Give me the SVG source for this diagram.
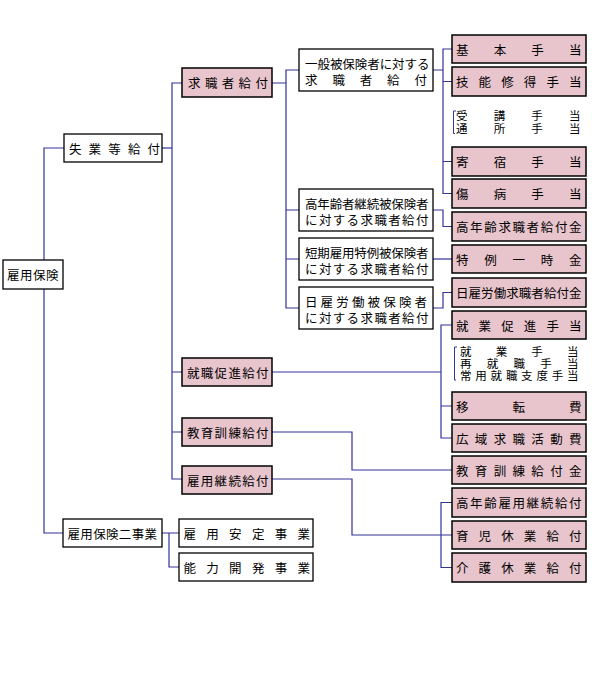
<svg xmlns="http://www.w3.org/2000/svg" width="592" height="700" viewBox="0 0 592 700">
<style>
.bw{fill:#fff;stroke:#000;stroke-width:1.3}
.bp{fill:#e8c4cc;stroke:#000;stroke-width:1.5}
text{font-family:"Noto Sans CJK JP","Noto Sans CJK SC",sans-serif;font-size:12.5px;fill:#000;dominant-baseline:central}
.s{font-size:11.5px}
.c{fill:none;stroke:#333399;stroke-width:1.2}
.k{fill:none;stroke:#333399;stroke-width:1}
</style>
<rect width="592" height="700" fill="#fff"/>
<g id="connectors">
<path class="c" d="M64,148H44V533H63"/>
<path class="c" d="M162,148H172"/>
<path class="c" d="M182,83H172V479H182M172,372H182M172,432H182"/>
<path class="c" d="M272,83H286M299,70H286V308H299M286,210H299M286,259H299"/>
<path class="c" d="M433,70H443M452,49H443V193.5H452M443,81.5H452M443,161.5H452"/>
<path class="c" d="M433,210H443V226.5H452"/>
<path class="c" d="M433,259H452"/>
<path class="c" d="M433,308H443V292.5H452"/>
<path class="c" d="M272,372H441M452,325H441V438H452M441,406H452"/>
<path class="c" d="M272,432H352V470H452"/>
<path class="c" d="M272,479H352V535H452M452,502.5H441V567.5H452"/>
<path class="c" d="M162,533H179M169,533V567H179"/>
<path class="k" d="M456,111H453.5V133.5H455"/>
<path class="k" d="M457,347H454.5V380H456"/>
</g>
<g id="n-koyohoken"><rect class="bw" x="3" y="260" width="60" height="29"/><text x="7 20 33 46" y="274.5">雇用保険</text></g>
<g id="n-shitsugyo"><rect class="bw" x="64" y="134" width="98" height="28"/><text x="69 88.6 108.3 127.9 147.5" y="148">失業等給付</text></g>
<g id="n-nijigyo"><rect class="bw" x="63" y="519" width="99" height="28"/><text x="67.5 80.3 93.2 106 118.8 131.7 144.5" y="533">雇用保険二事業</text></g>
<g id="n-kyushoku"><rect class="bp" x="182" y="68" width="90" height="29"/><text x="188 204.9 221.8 238.6 255.5" y="82.5">求職者給付</text></g>
<g id="n-shushoku"><rect class="bp" x="182" y="358" width="90" height="28"/><text x="187 200.8 214.6 228.4 242.2 256" y="372">就職促進給付</text></g>
<g id="n-kyoiku"><rect class="bp" x="182" y="418" width="90" height="28"/><text x="187 200.8 214.6 228.4 242.2 256" y="432">教育訓練給付</text></g>
<g id="n-keizoku"><rect class="bp" x="182" y="466" width="90" height="28"/><text x="187 200.8 214.6 228.4 242.2 256" y="480">雇用継続給付</text></g>
<g id="n-antei"><rect class="bw" x="179" y="519" width="134" height="28"/><text x="183.5 206.3 229.1 251.9 274.7 297.5" y="533">雇用安定事業</text></g>
<g id="n-noryoku"><rect class="bw" x="179" y="553" width="134" height="28"/><text x="183.5 206.3 229.1 251.9 274.7 297.5" y="567">能力開発事業</text></g>
<g id="n-ippan"><rect class="bw" x="299" y="49" width="134" height="42"/><text><tspan x="305 317.4 329.9 342.3 354.8 367.2 379.7 392.1 404.6 417" y="63">一般被保険者に対する</tspan><tspan x="305 332.4 359.8 387.1 414.5" y="79">求職者給付</tspan></text></g>
<g id="n-konenreisha"><rect class="bw" x="299" y="189" width="134" height="42"/><text><tspan x="305 317.3 329.7 342 354.3 366.7 379 391.3 403.7 416" y="203">高年齢者継続被保険者</tspan><tspan x="305 318.9 332.8 346.6 360.5 374.4 388.3 402.1 416" y="219">に対する求職者給付</tspan></text></g>
<g id="n-tanki"><rect class="bw" x="299" y="238" width="134" height="42"/><text><tspan x="305 317.3 329.7 342 354.3 366.7 379 391.3 403.7 416" y="252">短期雇用特例被保険者</tspan><tspan x="305 318.9 332.8 346.6 360.5 374.4 388.3 402.1 416" y="268">に対する求職者給付</tspan></text></g>
<g id="n-hiyatoi"><rect class="bw" x="299" y="287" width="134" height="42"/><text><tspan x="305 320.6 336.3 351.9 367.6 383.2 398.9 414.5" y="301">日雇労働被保険者</tspan><tspan x="305 318.9 332.8 346.6 360.5 374.4 388.3 402.1 416" y="317">に対する求職者給付</tspan></text></g>
<g id="n-kihon"><rect class="bp" x="452" y="35" width="134" height="28"/><text x="456 493.7 531.3 569" y="49">基本手当</text></g>
<g id="n-gino"><rect class="bp" x="452" y="67" width="134" height="29"/><text x="456 478.6 501.2 523.8 546.4 569" y="81.5">技能修得手当</text></g>
<g id="n-juko"><text class="s"><tspan x="456 493.7 531.3 569" y="115">受講手当</tspan><tspan x="456 493.7 531.3 569" y="128">通所手当</tspan></text></g>
<g id="n-kishuku"><rect class="bp" x="452" y="147" width="134" height="29"/><text x="456 493.7 531.3 569" y="161.5">寄宿手当</text></g>
<g id="n-shobyo"><rect class="bp" x="452" y="179" width="134" height="29"/><text x="456 493.7 531.3 569" y="193.5">傷病手当</text></g>
<g id="n-konenrei-kyushoku"><rect class="bp" x="452" y="212" width="134" height="29"/><text x="456 470.1 484.25 498.4 512.5 526.6 540.75 554.9 569" y="226.5">高年齢求職者給付金</text></g>
<g id="n-tokurei"><rect class="bp" x="452" y="245" width="134" height="28"/><text x="456 484.25 512.5 540.75 569" y="259">特例一時金</text></g>
<g id="n-hiyatoi-kyushoku"><rect class="bp" x="452" y="278" width="134" height="29"/><text x="456 468.6 481.1 493.7 506.2 518.8 531.3 543.9 556.4 569" y="292.5">日雇労働求職者給付金</text></g>
<g id="n-shugyo-sokushin"><rect class="bp" x="452" y="311" width="134" height="28"/><text x="456 478.6 501.2 523.8 546.4 569" y="325">就業促進手当</text></g>
<g id="n-shugyo"><text class="s"><tspan x="460 495.7 531.3 567" y="350.5">就業手当</tspan><tspan x="460 486.75 513.5 540.25 567" y="362.5">再就職手当</tspan><tspan x="460 475.3 490.6 505.9 521.1 536.4 551.7 567" y="374.5">常用就職支度手当</tspan></text></g>
<g id="n-iten"><rect class="bp" x="452" y="392" width="134" height="28"/><text x="456 512.5 569" y="406">移転費</text></g>
<g id="n-koiki"><rect class="bp" x="452" y="424" width="134" height="28"/><text x="456 474.8 493.7 512.5 531.3 550.2 569" y="438">広域求職活動費</text></g>
<g id="n-kyoiku-kin"><rect class="bp" x="452" y="456" width="134" height="28"/><text x="456 474.8 493.7 512.5 531.3 550.2 569" y="470">教育訓練給付金</text></g>
<g id="n-konenrei-koyo"><rect class="bp" x="452" y="488" width="134" height="29"/><text x="456 470.1 484.25 498.4 512.5 526.6 540.75 554.9 569" y="502.5">高年齢雇用継続給付</text></g>
<g id="n-ikuji"><rect class="bp" x="452" y="521" width="134" height="28"/><text x="456 478.6 501.2 523.8 546.4 569" y="535">育児休業給付</text></g>
<g id="n-kaigo"><rect class="bp" x="452" y="553" width="134" height="29"/><text x="456 478.6 501.2 523.8 546.4 569" y="567.5">介護休業給付</text></g>
</svg>
